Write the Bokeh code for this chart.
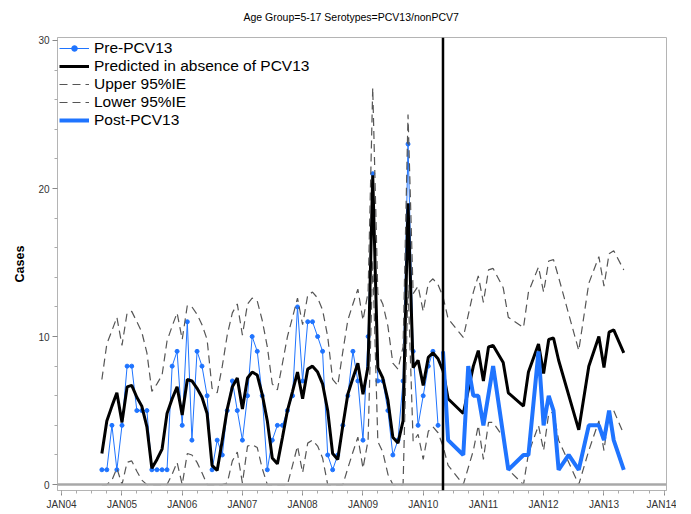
import pandas as pd
from bokeh.plotting import figure
from bokeh.models import (FixedTicker, CustomJSTickFormatter, Span, Legend,
                          LegendItem, Range1d, ColumnDataSource)
from bokeh.embed import file_html
from bokeh.resources import INLINE

title_text = "Age Group=5-17 Serotypes=PCV13/nonPCV7"

# ---------------- data ----------------
# observed cases before PCV13 (monthly, Sep 2004 - Apr 2010)
pre_dates = pd.date_range("2004-09-01", "2010-04-01", freq="MS")
pre_cases = [1, 1, 4, 1, 4, 8, 8, 5, 5, 5, 1, 1, 1, 1, 8, 9, 4, 11, 3, 9,
             8, 6, 1, 3, 2, 5, 7, 5, 3, 6, 10, 9, 6, 1, 3, 4, 4, 5, 6, 12,
             7, 11, 11, 10, 9, 2, 1, 2, 4, 6, 9, 7, 3, 10, 21, 7, 7, 5, 2, 3,
             7, 23, 9, 4, 6, 8, 9, 4]

# model months: monthly Sep 2004 - May 2010, then months with data after
model_dates_pre = pd.date_range("2004-09-01", "2010-05-01", freq="MS")
model_dates_post = pd.to_datetime([
    "2010-06-01", "2010-09-01", "2010-11-01", "2010-12-01", "2011-01-01",
    "2011-02-01", "2011-03-01", "2011-05-01", "2011-06-01", "2011-09-01",
    "2011-10-01", "2011-12-01", "2012-01-01", "2012-02-01", "2012-03-01",
    "2012-04-01", "2012-08-01", "2012-10-01", "2012-12-01", "2013-01-01",
    "2013-02-01", "2013-03-01", "2013-05-01"])

predicted = [2.1, 4.3, 5.3, 6.2, 4.2, 6.6, 6.7, 5.9, 5.3, 3.9, 1.1, 1.7, 2.4,
             4.8, 5.8, 6.6, 4.7, 7.1, 7.0, 6.5, 5.9, 4.8, 1.3, 0.95, 3.0, 5.1,
             6.6, 7.2, 5.1, 7.2, 7.6, 7.4, 6.1, 4.3, 1.8, 1.4, 3.2, 5.0, 6.3,
             7.6, 5.8, 7.8, 8.0, 7.6, 6.8, 5.0, 2.1, 1.7, 4.0, 6.1, 7.2, 8.2,
             6.1, 8.0, 20.9, 7.9, 7.2, 5.7, 3.2, 2.8, 4.3, 19.0, 7.9, 8.4, 6.7,
             8.6, 8.9, 8.5, 7.7,
             5.8, 4.8, 8.0, 9.05, 7.0, 9.3, 9.4, 8.25, 6.2, 5.3, 7.6, 9.5,
             7.5, 9.8, 9.9, 8.4, 3.7, 8.0, 10.0, 7.9, 10.3, 10.45, 8.9]

upper = [7.1, 9.5, 10.4, 11.3, 9.4, 11.6, 11.7, 11.0, 10.3, 8.9, 6.3, 6.8, 7.4,
         9.7, 10.7, 11.6, 9.8, 12.1, 12.0, 11.5, 10.8, 9.8, 6.5, 6.2, 8.0, 10.1,
         11.6, 12.2, 10.1, 12.2, 12.6, 12.4, 11.1, 9.3, 6.8, 6.4, 8.2, 10.0,
         11.3, 12.6, 10.8, 12.8, 13.0, 12.6, 11.8, 10.0, 7.1, 6.7, 9.0, 11.1,
         12.2, 13.2, 11.1, 13.0, 26.8, 12.9, 12.2, 10.7, 8.2, 7.8, 9.3, 25.0,
         12.9, 13.4, 11.7, 13.6, 13.9, 13.5, 12.7,
         11.2, 9.95, 13.0, 14.1, 12.3, 14.5, 14.6, 13.3, 11.3, 10.6, 13.0, 14.7,
         13.0, 15.1, 15.2, 14.0, 9.05, 13.6, 15.4, 13.4, 15.6, 15.8, 14.5]

lower = [0, 0, 0.3, 1.1, 0, 1.5, 1.6, 0.9, 0.3, 0, 0, 0, 0, 0, 0.7, 1.5, 0,
         2.1, 2.0, 1.5, 0.8, 0, 0, 0, 0, 0.1, 1.6, 2.2, 0.1, 2.6, 2.7, 2.5,
         1.1, 0, 0, 0, 0, 0, 1.3, 2.6, 0.8, 2.8, 3.0, 2.6, 1.8, 0, 0, 0, 0,
         1.1, 2.2, 3.2, 1.1, 3.0, 15.2, 2.9, 2.2, 0.7, 0, 0, 0, 13.5, 2.9, 3.4,
         1.7, 3.6, 3.9, 3.5, 2.6,
         1.3, 0.0, 2.3, 4.0, 1.7, 4.2, 4.2, 3.2, 1.0, 0.0, 2.1, 4.0, 2.3, 4.8,
         4.9, 3.0, 0.0, 2.3, 4.3, 2.3, 4.95, 5.0, 3.4]

# observed cases after PCV13
post_dates = pd.to_datetime([
    "2010-05-01", "2010-06-01", "2010-09-01", "2010-10-01", "2010-11-01",
    "2010-12-01", "2011-01-01", "2011-03-01", "2011-06-01", "2011-09-01",
    "2011-10-01", "2011-12-01", "2012-01-01", "2012-02-01", "2012-03-01",
    "2012-04-01", "2012-06-01", "2012-08-01", "2012-10-01", "2012-12-01",
    "2013-01-01", "2013-02-01", "2013-03-01", "2013-05-01"])
post_cases = [9, 3, 2, 8, 6, 6, 4, 8, 1, 2, 2, 9, 4, 6, 5, 1, 2, 1, 4, 4, 3,
              5, 3, 1]

intro_date = pd.Timestamp("2010-05-01")
year_ticks = pd.date_range("2004-01-01", "2014-01-01", freq="YS")
quarter_ticks = pd.date_range("2003-10-01", "2014-01-01", freq="QS")
y_major = [0, 10, 20, 30]
y_minor = [2, 4, 6, 8, 12, 14, 16, 18, 22, 24, 26, 28]

series_names = ["Pre-PCV13", "Predicted in absence of PCV13", "Upper 95%IE",
                "Lower 95%IE", "Post-PCV13"]

# ---------------- figure ----------------
def ms(ts):
    return (pd.Timestamp(ts) - pd.Timestamp("1970-01-01")) / pd.Timedelta(milliseconds=1)

model_dates = list(model_dates_pre) + list(model_dates_post)

p = figure(width=676, height=512, output_backend="svg",
           toolbar_location=None, x_axis_type="datetime",
           x_range=Range1d(ms("2003-12-07"), ms("2014-01-15")),
           y_range=Range1d(-0.4, 30.2),
           min_border_left=57, min_border_right=10, min_border_top=37,
           min_border_bottom=22)

p.title.text = title_text
p.title.align = "left"
p.title.offset = 186
p.title.text_font = "Liberation Sans"
p.title.text_font_size = "10.5px"
p.title.text_font_style = "normal"
p.title.text_color = "#000000"
p.title.standoff = 2
p.title.padding = dict(left=0, right=0, top=0, bottom=14)

p.grid.visible = False
p.outline_line_color = "#b4b4b4"
p.outline_line_width = 1
p.background_fill_color = "white"
p.border_fill_color = "white"

zero = Span(location=0, dimension="width", line_color="#a8a8a8", line_width=2.5)
p.add_layout(zero)

src_pre = ColumnDataSource(dict(x=pre_dates, y=pre_cases))
src_model = ColumnDataSource(dict(x=model_dates, pred=predicted, up=upper, lo=lower))
src_post = ColumnDataSource(dict(x=post_dates, y=post_cases))

blue = "#1f74ff"
r_pre_line = p.line("x", "y", source=src_pre, line_color=blue, line_width=1)
r_pre_pts = p.scatter("x", "y", source=src_pre, marker="circle", size=4,
                      fill_color=blue, line_color=blue)
r_pred = p.line("x", "pred", source=src_model, line_color="black", line_width=3)
r_up = p.line("x", "up", source=src_model, line_color="#555555", line_width=1.2,
              line_dash="8 5")
r_lo = p.line("x", "lo", source=src_model, line_color="#555555", line_width=1.2,
              line_dash="8 5")
r_post = p.line("x", "y", source=src_post, line_color=blue, line_width=4)

vline = Span(location=ms(intro_date), dimension="height", line_color="black",
             line_width=2.5)
p.add_layout(vline)

# axes
p.xaxis.ticker = FixedTicker(ticks=[ms(t) for t in year_ticks],
                             minor_ticks=[ms(t) for t in quarter_ticks])
p.xaxis.formatter = CustomJSTickFormatter(code="""
const d = new Date(tick);
const m = ['JAN','FEB','MAR','APR','MAY','JUN','JUL','AUG','SEP','OCT','NOV','DEC'][d.getUTCMonth()];
return m + String(d.getUTCFullYear()).slice(2);
""")
p.xaxis.axis_label_standoff = 0
p.yaxis.ticker = FixedTicker(ticks=y_major, minor_ticks=y_minor)
p.yaxis.axis_label = "Cases"
p.yaxis.axis_label_text_font = "Liberation Sans"
p.yaxis.axis_label_text_font_size = "12.5px"
p.yaxis.axis_label_text_font_style = "bold"
p.yaxis.axis_label_text_color = "black"
p.yaxis.axis_label_standoff = 8

for ax in (p.xaxis[0], p.yaxis[0]):
    ax.axis_line_color = "#b4b4b4"
    ax.major_tick_line_color = "#888888"
    ax.minor_tick_line_color = "#aaaaaa"
    ax.major_tick_out = 5
    ax.major_tick_in = 0
    ax.minor_tick_out = 3
    ax.minor_tick_in = 0
    ax.major_label_text_font = "Liberation Sans"
    ax.major_label_text_font_size = "10px"
    ax.major_label_text_color = "#333333"
    ax.major_label_standoff = 3

legend = Legend(items=[
    LegendItem(label=series_names[0], renderers=[r_pre_line, r_pre_pts]),
    LegendItem(label=series_names[1], renderers=[r_pred]),
    LegendItem(label=series_names[2], renderers=[r_up]),
    LegendItem(label=series_names[3], renderers=[r_lo]),
    LegendItem(label=series_names[4], renderers=[r_post]),
], location="top_left")
legend.border_line_alpha = 0
legend.background_fill_alpha = 0
legend.label_text_font = "Liberation Sans"
legend.label_text_font_size = "15.5px"
legend.label_text_color = "black"
legend.glyph_width = 30
legend.glyph_height = 14
legend.label_height = 14
legend.spacing = 0
legend.padding = 0
legend.margin = 2
legend.label_standoff = 5
p.add_layout(legend)

open("out.html", "w").write(file_html(p, INLINE))
